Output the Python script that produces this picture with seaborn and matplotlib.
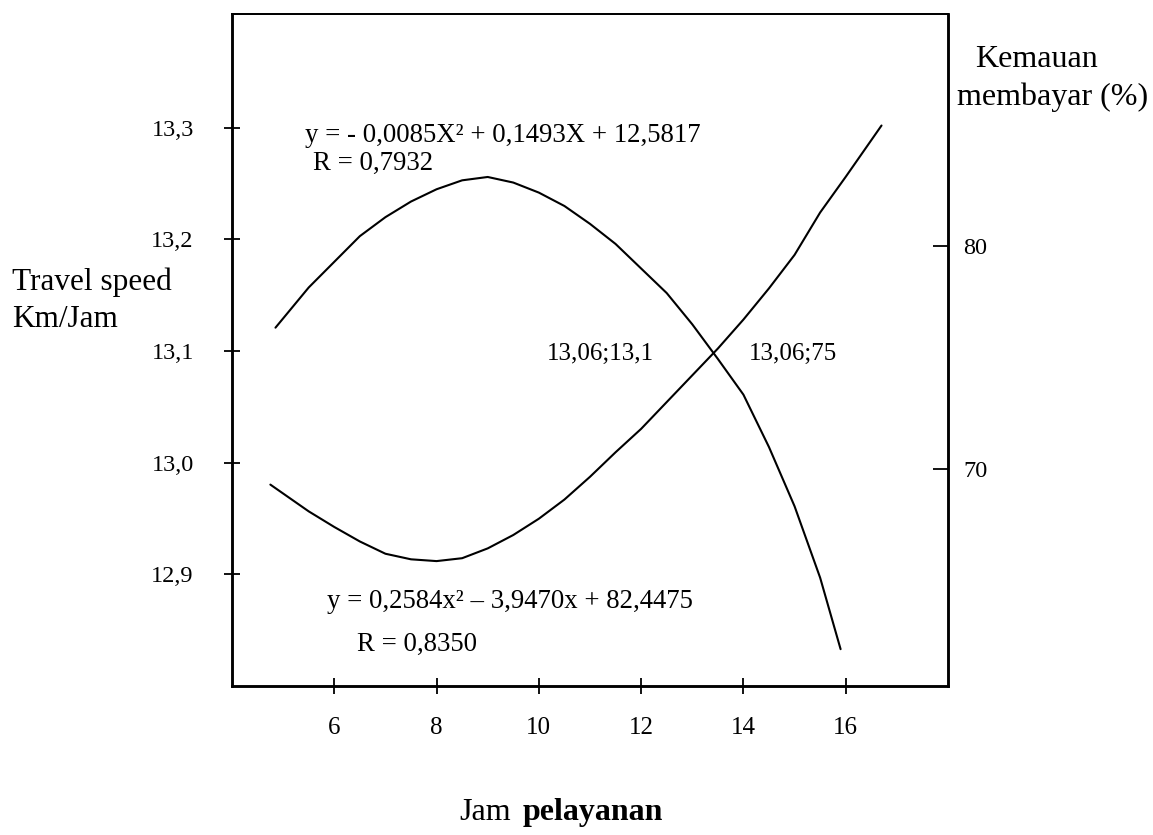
import matplotlib
matplotlib.use("Agg")
import matplotlib.pyplot as plt
import seaborn as sns

# ---- data ----
speed_x = [4.85, 5.5, 6.0, 6.5, 7.0, 7.5, 8.0, 8.5, 9.0, 9.5, 10.0, 10.5, 11.0,
           11.5, 12.0, 12.5, 13.0, 13.5, 14.0, 14.5, 15.0, 15.5, 15.9]
speed_y = [13.121, 13.157, 13.180, 13.203, 13.220, 13.234, 13.245, 13.253, 13.256,
           13.251, 13.242, 13.230, 13.214, 13.196, 13.174, 13.152, 13.124, 13.093,
           13.061, 13.014, 12.961, 12.897, 12.833]

wtp_x = [4.75, 5.5, 6.0, 6.5, 7.0, 7.5, 8.0, 8.5, 9.0, 9.5, 10.0, 10.5, 11.0,
         11.5, 12.0, 12.5, 13.0, 13.5, 14.0, 14.5, 15.0, 15.5, 16.0, 16.7]
wtp_y = [69.3, 68.1, 67.4, 66.75, 66.2, 65.95, 65.87, 66.0, 66.44, 67.04, 67.77,
         68.63, 69.65, 70.75, 71.8, 73.0, 74.2, 75.4, 76.7, 78.1, 79.6, 81.5, 83.1, 85.4]

x_ticks = [6, 8, 10, 12, 14, 16]
x_ticklabels = ["6", "8", "10", "12", "14", "16"]
left_ticks = [12.9, 13.0, 13.1, 13.2, 13.3]
left_ticklabels = ["12,9", "13,0", "13,1", "13,2", "13,3"]
right_ticks = [70, 80]
right_ticklabels = ["70", "80"]

eq_speed = "y = - 0,0085X² + 0,1493X + 12,5817"
r_speed = "R = 0,7932"
eq_wtp = "y = 0,2584x² – 3,9470x + 82,4475"
r_wtp = "R = 0,8350"
lbl_cross_left = "13,06;13,1"
lbl_cross_right = "13,06;75"

sns.set_theme(style="white")
plt.rcParams["font.family"] = ["Liberation Serif", "DejaVu Serif"]
for k in ("text.color", "axes.labelcolor", "xtick.color", "ytick.color", "axes.edgecolor"):
    plt.rcParams[k] = "black"

W, H = 1153, 835
fig = plt.figure(figsize=(W / 100, H / 100), dpi=100)
fig.patch.set_facecolor("white")

L, R, T, B = 232, 948, 14, 686
ax = fig.add_axes([L / W, 1 - B / H, (R - L) / W, (B - T) / H])
ax.set_facecolor("white")

sns.lineplot(x=speed_x, y=speed_y, ax=ax, color="black", linewidth=1.5)
ax.set_xlim(4, 18)
ax.set_ylim(12.8, 13.402)

ax2 = ax.twinx()
sns.lineplot(x=wtp_x, y=wtp_y, ax=ax2, color="black", linewidth=1.5)
ax2.set_ylim(60.27, 90.40)

ax.set_xticks(x_ticks)
ax.set_xticklabels(x_ticklabels)
ax.set_yticks(left_ticks)
ax.set_yticklabels(left_ticklabels)
ax2.set_yticks(right_ticks)
ax2.set_yticklabels(right_ticklabels)
ax.set_xlabel("")
ax.set_ylabel("")
ax2.set_ylabel("")

ax.tick_params(axis="x", direction="inout", length=12, width=1.3, pad=16,
               labelsize=18, colors="black", bottom=True)
ax.tick_params(axis="y", direction="inout", length=11, width=1.3, pad=22,
               labelsize=17.5, colors="black", left=True)
ax2.tick_params(axis="y", direction="in", length=11, width=1.3, pad=11,
                labelsize=17.5, colors="black", right=True)

for a in (ax, ax2):
    for s in ("left", "bottom", "right"):
        a.spines[s].set_color("black")
        a.spines[s].set_linewidth(1.8)
    a.spines["top"].set_color("black")
    a.spines["top"].set_linewidth(1.3)

efs = 19.3
ax.text(5.43, 13.2874, eq_speed, fontsize=efs, ha="left", va="baseline")
ax.text(5.58, 13.2623, r_speed, fontsize=efs, ha="left", va="baseline")
ax.text(5.86, 12.870, eq_wtp, fontsize=efs, ha="left", va="baseline")
ax.text(6.44, 12.831, r_wtp, fontsize=efs, ha="left", va="baseline")
ax.text(10.16, 13.092, lbl_cross_left, fontsize=18, ha="left", va="baseline")
ax.text(14.11, 13.092, lbl_cross_right, fontsize=18, ha="left", va="baseline")

fig.text(12 / W, 1 - 290 / H, "Travel speed", fontsize=22.5, ha="left", va="baseline")
fig.text(12 / W, 1 - 327 / H, "Km/Jam", fontsize=22.5, ha="left", va="baseline")
fig.text(975 / W, 1 - 67 / H, "Kemauan", fontsize=23, ha="left", va="baseline")
fig.text(957 / W, 1 - 105 / H, "membayar (%)", fontsize=23, ha="left", va="baseline")
fig.text(511 / W, 1 - 820 / H, "Jam", fontsize=23, ha="right", va="baseline")
fig.text(523 / W, 1 - 820 / H, "pelayanan", fontsize=23, ha="left", va="baseline",
         fontweight="bold")

fig.savefig("out.png", dpi=100, facecolor="white")
